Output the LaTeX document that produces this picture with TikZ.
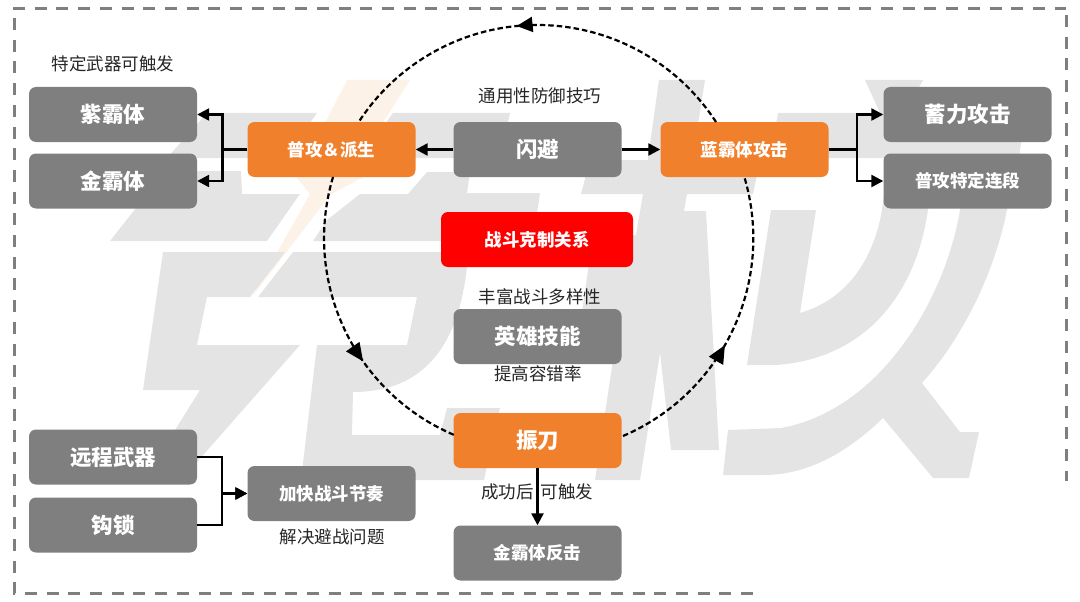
\documentclass[tikz,border=0pt]{standalone}
\usepackage{fontspec}
\setmainfont{Noto Sans CJK SC}
\usetikzlibrary{arrows.meta,decorations.markings}
\definecolor{wm}{HTML}{E4E4E4}
\definecolor{boltc}{HTML}{FDF2E8}
\definecolor{boxgray}{HTML}{7F7F7F}
\definecolor{boxorange}{HTML}{F0802C}
\definecolor{borderc}{HTML}{7F7F7F}
\tikzset{
  basebox/.style={rounded corners=7pt,inner sep=0pt,text=white,align=center,font=\bfseries},
  bigtxt/.style={font=\fontsize{21.5}{24}\selectfont\bfseries},
  smalltxt/.style={font=\fontsize{17.5}{20}\selectfont\bfseries},
  graybox/.style={basebox,fill=boxgray,minimum width=168pt,minimum height=55pt},
  orangebox/.style={basebox,fill=boxorange,minimum width=168pt,minimum height=55pt},
  redbox/.style={basebox,fill=red,minimum width=192pt,minimum height=55pt},
  lbl/.style={inner sep=0pt,text=black!85,font=\fontsize{17.5}{20}\selectfont},
  conn/.style={line width=2.4pt,black,-{Triangle[length=12pt,width=12pt]}},
  ring/.style={line width=2.2pt,black,dash pattern=on 5.5pt off 3pt},
  frame/.style={line width=3pt,borderc,dash pattern=on 12pt off 9.7pt},
  wmark/.style={fill=wm,draw=none},
}
\begin{document}
\begin{tikzpicture}[x=1pt,y=-1pt]
\useasboundingbox (0,0) rectangle (1080,602);
% watermark
\fill[boltc] (347,80)--(410,80)--(375,135)--(362,178)--(331,194)--(252,297)--(310,194)--(297,178)--cycle;
\fill[wmark] (207,113)--(317,113)--(285,158)--(167,158)--cycle;
\fill[wmark] (393,113)--(510,113)--(500,158)--(360,158)--cycle;
\fill[wmark] (165,171)--(241,171)--(242,194)--(300,194)--(267,241)--(110,241)--cycle;
\fill[wmark] (327,220)--(360,194)--(408,194)--(427,172)--(470,172)--(467,193)--(540,193)--(533,241)--(313,241)--cycle;
\fill[wmark] (163,252)--(285,252)--(250,297)--(207,297)--(197,345)--(300,345)--(190,470)--(150,470)--(200,390)--(143,390)--cycle;
\fill[wmark] (293,252)--(470,252)--(467,267) .. controls (460,330) and (435,392) .. (353,392)--(352,435)--(440,435)--(447,408)--(500,408)--(484,480)--(301,480)--(317,345)--(407,345)--(417,297)--(258,297)--cycle;
\fill[wmark] (581,194)--(590,160)--(760,160)--(753,194)--cycle;
\fill[wmark] (659,80)--(705,80)--(687,194)--(684,211)--(706,211)--(719,450)--(671,450)--(660,353)--(640,480)--(595,480)--(616,340)--(578,340)--(593,235)--(636,235)--(643,194)--cycle;
\fill[wmark] (865,80)--(923,80)--(905,113)--(880,113)--cycle;
\fill[wmark] (778,113)--(1025,113)--(1019,158)--(770,158)--cycle;
\fill[wmark] (771,210)--(816,210)--(800,313) .. controls (845,300) and (873,262) .. (882,210)--(890,150)--(935,150)--(928,210) .. controls (915,300) and (860,360) .. (775,365)--(747,365)--cycle;
\fill[wmark] (968,155)--(960,210) .. controls (945,300) and (880,410) .. (781,428)--(728,430)--(723,475)--(764,475) .. controls (810,475) and (850,450) .. (883,418)--(933,478)--(969,478)--(979,432)--(960,432)--(922,383) .. controls (965,335) and (995,270) .. (1007,210)--(1015,155)--cycle;
% frame
\coordinate (fa) at (13,8.5); \coordinate (fb) at (1066,8.5); \coordinate (fc) at (1066,15); \coordinate (fd) at (1066,481);
\coordinate (fe) at (14,18); \coordinate (ff) at (14,593); \coordinate (fg) at (756,593);
\draw[frame] (fa) -- (fb);
\draw[frame] (fc) -- (fd);
\draw[frame] (fe) -- (ff) -- (fg);
% boxes
\node[graybox,bigtxt] (zi) at (113,114.5) {紫霸体};
\node[graybox,bigtxt] (jin) at (113,181) {金霸体};
\node[orangebox,smalltxt] (pg) at (331.5,149.5) {普攻＆派生};
\node[graybox,bigtxt] (sb) at (537.5,149.5) {闪避};
\node[orangebox,smalltxt] (lan) at (744.5,149.5) {蓝霸体攻击};
\node[graybox,bigtxt] (xu) at (967.5,114.5) {蓄力攻击};
\node[graybox,smalltxt] (pt) at (967.5,181) {普攻特定连段};
\node[redbox,smalltxt] (zd) at (537,239.5) {战斗克制关系};
\node[graybox,bigtxt] (yx) at (537.5,336.5) {英雄技能};
\node[orangebox,bigtxt] (zhen) at (537.5,440.5) {振刀};
\node[graybox,smalltxt] (jf) at (537.5,553) {金霸体反击};
\node[graybox,bigtxt] (yc) at (113,457) {远程武器};
\node[graybox,bigtxt] (gs) at (113,525) {钩锁};
\node[graybox,smalltxt] (jk) at (331.5,493.5) {加快战斗节奏};
% labels
\node[lbl] (l1) at (113,64) {特定武器可触发};
\node[lbl] (l2) at (540,96) {通用性防御技巧};
\node[lbl] (l3) at (540,297) {丰富战斗多样性};
\node[lbl] (l4) at (538,374) {提高容错率};
\node[lbl] (l5) at (537,492) {成功后\hspace{7pt}可触发};
\node[lbl] (l6) at (332,537) {解决避战问题};
% ring
\coordinate (c) at (538,238);
\coordinate (r1) at (716,122);
\coordinate (r2) at (333,177);
\coordinate (r3) at (623,436);
\draw[ring,decoration={markings,mark=at position 0.549 with {\arrow{Triangle[length=16pt,width=15pt]}}},postaction={decorate}]
  (r1) arc[start angle=-33,end angle=-147,radius=213];
\draw[ring,decoration={markings,mark=at position 0.619 with {\arrow{Triangle[length=18pt,width=16pt]}}},postaction={decorate}]
  (r2) arc[start angle=196.6,end angle=113,radius=214];
\draw[ring,decoration={markings,mark=at position 0.444 with {\arrow{Triangle[length=18pt,width=16pt]}}},postaction={decorate}]
  (r3) arc[start angle=66.8,end angle=-16.6,radius=215];
% connectors
\draw[conn] (pg.west) -- ++(-25,0) |- (zi.east);
\draw[conn] (pg.west) -- ++(-25,0) |- (jin.east);
\draw[conn] (sb.west) -- (pg.east);
\draw[conn] (sb.east) -- (lan.west);
\draw[conn] (lan.east) -- ++(28,0) |- (xu.west);
\draw[conn] (lan.east) -- ++(28,0) |- (pt.west);
\draw[conn] (zhen.south) -- (jf.north);
\draw[conn] (yc.east) -- ++(25,0) |- (jk.west);
\draw[conn] (gs.east) -- ++(25,0) |- (jk.west);
\end{tikzpicture}
\end{document}
